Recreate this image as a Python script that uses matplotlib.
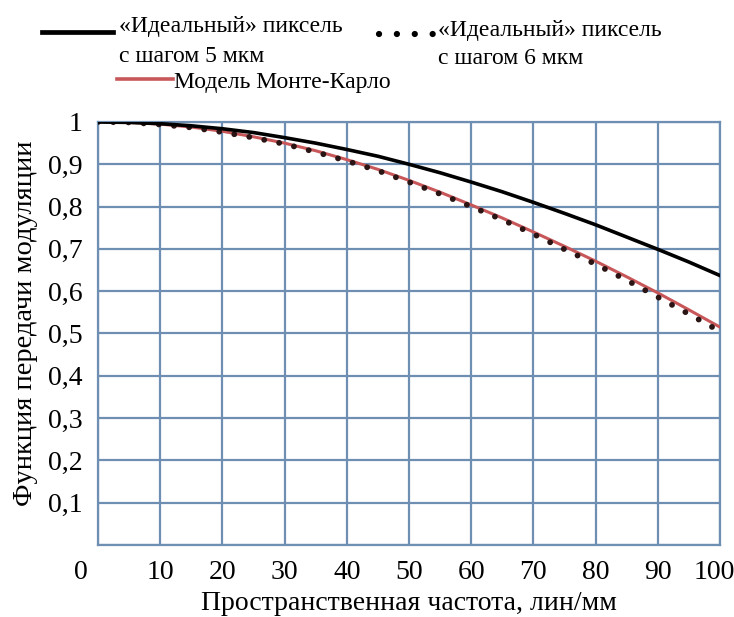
import matplotlib.pyplot as plt
from matplotlib.lines import Line2D
from matplotlib.transforms import ScaledTranslation

plt.rcParams['font.family'] = ['Liberation Serif', 'DejaVu Serif']

# spatial frequency, lines/mm
freq = [0, 5, 10, 15, 20, 25, 30, 35, 40, 45, 50,
        55, 60, 65, 70, 75, 80, 85, 90, 95, 100]

# MTF of the ideal pixel, 5 um pitch
mtf_5um = [1.000, 0.999, 0.996, 0.991, 0.984, 0.975, 0.963, 0.950, 0.935, 0.919, 0.900,
           0.880, 0.858, 0.835, 0.810, 0.784, 0.757, 0.728, 0.699, 0.669, 0.637]
# MTF of the ideal pixel, 6 um pitch
mtf_6um = [1.000, 0.999, 0.994, 0.987, 0.976, 0.963, 0.948, 0.929, 0.908, 0.885, 0.858,
           0.830, 0.800, 0.769, 0.735, 0.699, 0.664, 0.626, 0.586, 0.546, 0.505]
# Monte-Carlo model
mtf_mc = [1.000, 0.999, 0.995, 0.988, 0.978, 0.965, 0.950, 0.932, 0.911, 0.888, 0.862,
          0.834, 0.804, 0.773, 0.740, 0.706, 0.671, 0.634, 0.596, 0.556, 0.515]

grid_col = '#6f8fb2'
red = '#c8575a'
fs = 20
leg_fs = 17

fig = plt.figure(figsize=(7.34, 6.17), dpi=100)
ax = fig.add_axes([0.1335, 0.1167, 0.8474, 0.6856])

ax.plot(freq, mtf_mc, color=red, lw=2.2, zorder=3)
ax.plot(freq, mtf_6um, color='#2a1414', lw=4.2, linestyle=(0, (0.01, 2.6)),
        dash_capstyle='round', zorder=4)
ax.plot(freq, mtf_5um, color='black', lw=2.6, zorder=5)

ax.set_xlim(0, 100)
ax.set_ylim(0, 1)
ax.set_xticks(range(0, 101, 10))
ax.set_xticklabels([str(v) for v in range(0, 101, 10)])
ax.set_yticks([i / 10 for i in range(11)])
ax.set_yticklabels([''] + ['0,%d' % i for i in range(1, 10)] + ['1'])
ax.tick_params(length=0, labelsize=fs)
ax.tick_params(axis='x', pad=11)
ax.tick_params(axis='y', pad=11)
ax.grid(True, color=grid_col, lw=1.6)
for s in ax.spines.values():
    s.set_color(grid_col)
    s.set_linewidth(1.6)

# nudge the end labels of the x axis inwards
xlabels = ax.get_xticklabels()
xlabels[0].set_transform(xlabels[0].get_transform() +
                         ScaledTranslation(-17 / 100, 0, fig.dpi_scale_trans))
xlabels[-1].set_transform(xlabels[-1].get_transform() +
                          ScaledTranslation(-6 / 100, 0, fig.dpi_scale_trans))

ax.set_xlabel('Пространственная частота, лин/мм', fontsize=fs, labelpad=4)
ax.set_ylabel('Функция передачи модуляции', fontsize=20.5)
ax.yaxis.set_label_coords(-0.097, 0.525)

# legend drawn by hand above the axes
W, H = 734, 617
def fx(px):
    return px / W
def fy(py):
    return 1 - py / H

fig.add_artist(Line2D([fx(42), fx(113)], [fy(32), fy(32)], color='black', lw=3.4))
fig.text(fx(119), fy(32), '«Идеальный» пиксель', fontsize=leg_fs, va='baseline')
fig.text(fx(119), fy(62), 'с шагом 5 мкм', fontsize=leg_fs, va='baseline')
fig.add_artist(Line2D([fx(117), fx(173)], [fy(79), fy(79)], color=red, lw=2.6))
fig.text(fx(174), fy(88), 'Модель Монте-Карло', fontsize=leg_fs, va='baseline')
fig.add_artist(Line2D([fx(379), fx(436)], [fy(34), fy(34)], color='black', lw=4.5,
                      linestyle=(0, (0.01, 2.85)), dash_capstyle='round'))
fig.text(fx(438), fy(36), '«Идеальный» пиксель', fontsize=leg_fs, va='baseline')
fig.text(fx(438), fy(64), 'с шагом 6 мкм', fontsize=leg_fs, va='baseline')

fig.savefig('out.png', dpi=100)
